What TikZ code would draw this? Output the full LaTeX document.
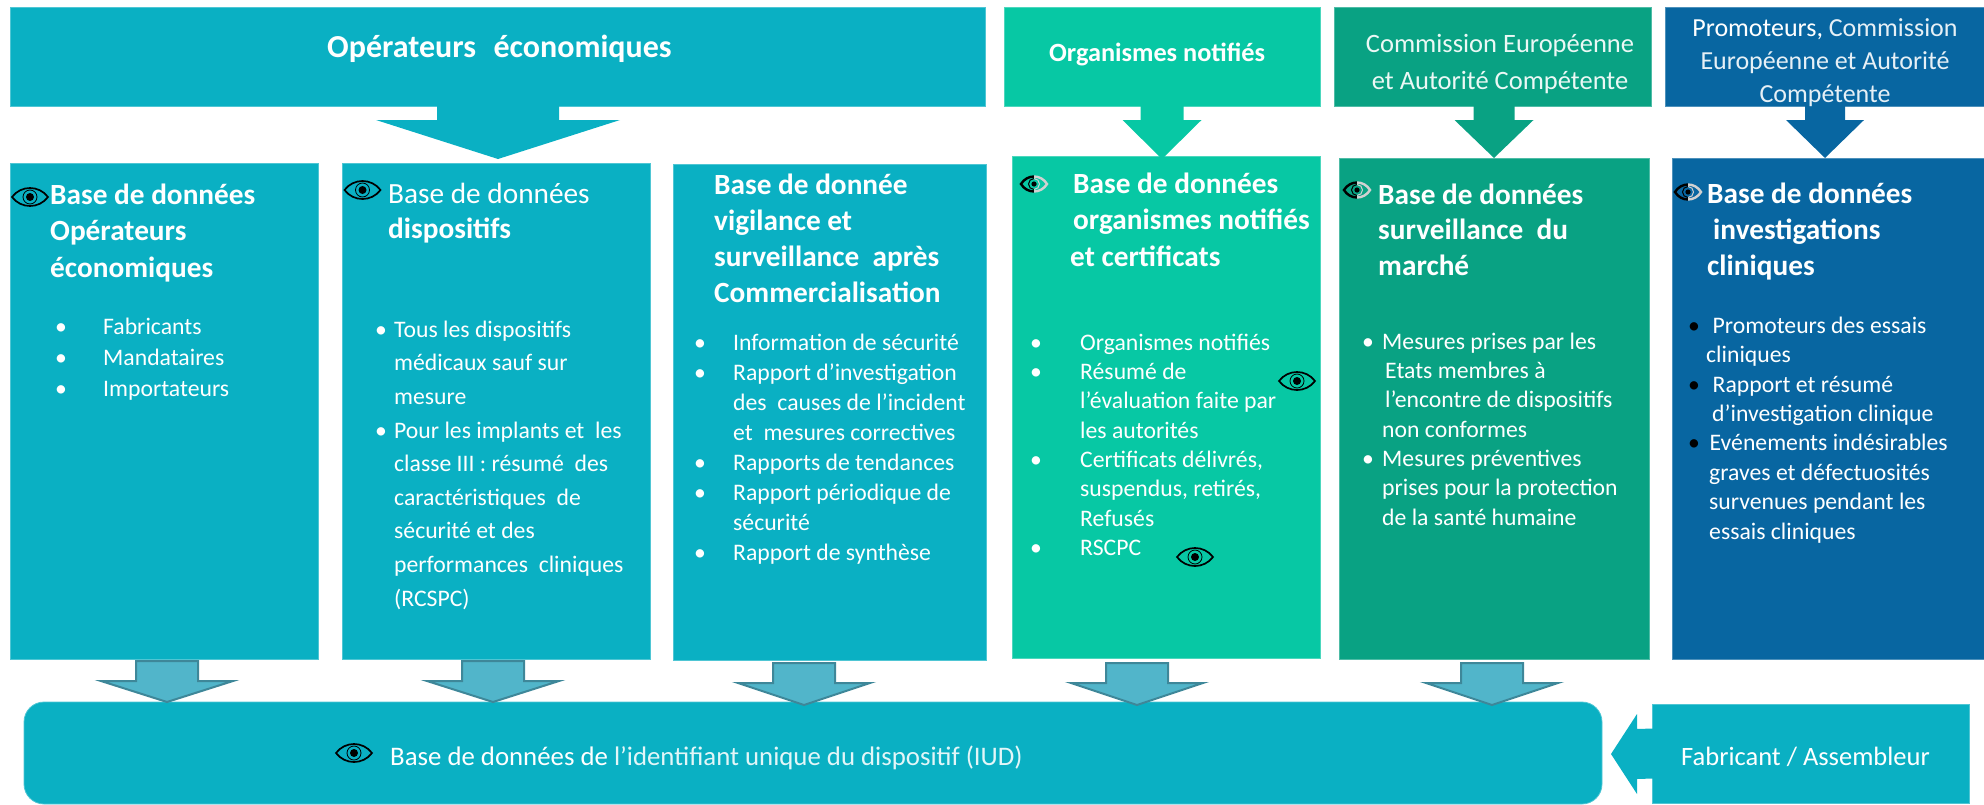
\documentclass[tikz,border=0pt]{standalone}
\usepackage{fontspec}
\setmainfont{Carlito}
\usetikzlibrary{calc}
\definecolor{cteal}{HTML}{0AB0C3}
\definecolor{cgreen}{HTML}{07C8A4}
\definecolor{cdgreen}{HTML}{09A283}
\definecolor{cblue}{HTML}{0866A1}
\definecolor{carrow}{HTML}{51B5CA}
\definecolor{carrowedge}{HTML}{3E8799}
\tikzset{
  panel/.style={anchor=north west,inner sep=0pt,outer sep=0pt,line width=.8pt},
  pteal/.style={panel,fill=cteal,draw=cteal!72!white},
  pgreen/.style={panel,fill=cgreen,draw=cgreen!72!white},
  pdgreen/.style={panel,fill=cdgreen,draw=cdgreen!72!white},
  pblue/.style={panel,fill=cblue,draw=cblue!72!white},
  atop/.style={fill=#1},
  alow/.style={fill=carrow,draw=carrowedge,line width=2pt,line join=miter},
  eye/.pic={
    \draw[black,line width=1.7pt,fill=none] (-18,0) .. controls (-9,-12) and (9,-12) .. (18,0) .. controls (9,12) and (-9,12) .. (-18,0) -- cycle;
    \draw[black,line width=.8pt] (0,0) circle (7);
    \fill[black] (0,0) circle (4);
  },
  halfeye/.pic={
    \begin{scope}
      \clip (-16,-12) rectangle (0,12);
      \draw[black,line width=2.4pt] (-13,0) .. controls (-7,-10) and (7,-10) .. (13,0) .. controls (7,10) and (-7,10) .. (-13,0) -- cycle;
      \draw[black,line width=1pt] (0,0) circle (5.5);
    \end{scope}
    \begin{scope}
      \clip (0,-12) rectangle (16,12);
      \draw[black!18,line width=2.4pt] (-13,0) .. controls (-7,-10) and (7,-10) .. (13,0) .. controls (7,10) and (-7,10) .. (-13,0) -- cycle;
      \draw[black!18,line width=1pt] (0,0) circle (5.5);
    \end{scope}
    \fill[black] (0,0) circle (2.6);
  },
}
% name, x1, y1, x2, y2, style
\newcommand\panelnode[6]{\node[#6,minimum width={(#4-#2)*1pt},minimum height={(#5-#3)*1pt}] (#1) at (#2,#3) {};}
% [options] name, x, first baseline, size, skip, text
\newcommand\txt[7][]{\node[anchor=north west,inner sep=0pt,align=left,text=white,font=\fontsize{#5}{#6}\selectfont,#1] (#2) at ({#3},{#4-0.7*#6}) {\strut #7};}
\newcommand\bu[1]{\makebox[#1pt][l]{\textbullet}}
\newcommand\hs[1]{\hspace*{#1pt}}
% style, source, target, tip x, shaft half, head half, start gap, head length, tip gap
\newcommand\blockdown[9]{%
  \coordinate (S) at ($(#4,0 |- #2.south)+(0,#7)$);
  \coordinate (T) at ($(#4,0 |- #3.north)+(0,#9)$);
  \path[#1] ($(S)+(-#5,0)$) -- ($(S)+(#5,0)$) -- ($(T)+(#5,-#8)$) -- ($(T)+(#6,-#8)$) -- (T) -- ($(T)+(-#6,-#8)$) -- ($(T)+(-#5,-#8)$) -- cycle;}
\begin{document}
\begin{tikzpicture}[x=1pt,y=-1pt]
\useasboundingbox (0,0) rectangle (1984,804);
% top banners
\panelnode{topop}{10}{7}{985}{106}{pteal}
\panelnode{toporg}{1004}{7}{1320}{106}{pgreen}
\panelnode{topcom}{1334.5}{7}{1651}{106}{pdgreen}
\panelnode{toppro}{1665}{7}{1984}{106}{pblue}
% data-base panels
\panelnode{bdop}{10}{163}{318}{659}{pteal}
\panelnode{bddis}{342}{163}{650}{659}{pteal}
\panelnode{bdvig}{673}{164}{986}{660}{pteal}
\panelnode{bdorg}{1012}{156}{1320}{658}{pgreen}
\panelnode{bdsur}{1339}{158}{1649}{659}{pdgreen}
\panelnode{bdinv}{1672}{158}{1984}{659}{pblue}
% bottom
\node[pteal,rounded corners=20pt,minimum width=1578pt,minimum height=102pt] (iud) at (24,702) {};
\panelnode{fab}{1652}{704}{1969}{803}{pteal}
% top arrows
\blockdown{atop=cteal}{topop}{bddis}{498}{61}{122}{-1}{39}{-4}
\blockdown{atop=cgreen}{toporg}{bdorg}{1162}{21.5}{39.5}{-1}{39}{3}
\blockdown{atop=cdgreen}{topcom}{bdsur}{1494}{20.5}{39.5}{-1}{38}{0}
\blockdown{atop=cblue}{toppro}{bdinv}{1825}{20}{39}{-1}{38}{0}
% lower arrows
\blockdown{alow}{bdop}{iud}{167}{31}{66}{2}{21}{0}
\blockdown{alow}{bddis}{iud}{493}{31}{66}{2}{21}{0}
\blockdown{alow}{bdvig}{iud}{804}{31}{66}{3}{22}{3}
\blockdown{alow}{bdorg}{iud}{1137}{31}{66}{5}{22}{3}
\blockdown{alow}{bdsur}{iud}{1492}{31}{66}{4}{22}{3}
% fabricant arrow
\coordinate (FS) at (fab.west);
\coordinate (FT) at ($(iud.east)+(9,1)$);
\fill[cteal] ($(FS)+(1,-25)$) -- ($(FT)+(26,-25)$) -- ($(FT)+(26,-40)$) -- (FT) -- ($(FT)+(26,40)$) -- ($(FT)+(26,25)$) -- ($(FS)+(1,25)$) -- cycle;
% banner texts
\txt[font=\fontsize{32}{36}\selectfont\bfseries]{t1}{327}{57}{32}{36}{Opérateurs\hspace{.55em}économiques}
\txt[font=\fontsize{26.3}{30}\selectfont\bfseries]{t2}{1049}{61}{26.3}{30}{Organismes notifiés}
\txt[anchor=north,align=center,text=white!92!cdgreen]{t3}{1500}{52}{26.5}{37}{Commission Européenne\\et Autorité Compétente}
\txt[anchor=north,align=center,text=white!90!cblue]{t4}{1825}{36}{26}{33}{\textcolor{white}{Promoteurs,} Commission\\Européenne et Autorité\\Compétente}
% panel 1
\txt[font=\fontsize{29.3}{36.5}\selectfont\bfseries]{h1}{50}{204}{29.3}{36.5}{Base de données\\Opérateurs\\économiques}
\txt{l1}{55}{334}{23.7}{31}{\bu{48}Fabricants\\\bu{48}Mandataires\\\bu{48}Importateurs}
% panel 2
\txt{h2}{388}{203}{29.3}{35}{Base de données\\\textbf{dispositifs}}
\txt{l2}{375}{337}{23.7}{33.6}{\bu{19}Tous les dispositifs\\\hs{19}médicaux sauf sur\\\hs{19}mesure\\\bu{19}Pour les implants et\ \ les\\\hs{19}classe III : résumé\ \ des\\\hs{19}caractéristiques\ \ de\\\hs{19}sécurité et des\\\hs{19}performances\ \ cliniques\\\hs{19}(RCSPC)}
% panel 3
\txt[font=\fontsize{29.3}{36}\selectfont\bfseries]{h3}{714}{194}{29.3}{36}{Base de donnée\\vigilance et\\surveillance\ \ après\\Commercialisation}
\txt{l3}{694}{350}{23.7}{30}{\bu{39}Information de sécurité\\\bu{39}Rapport d’investigation\\\hs{39}des\ \ causes de l’incident\\\hs{39}et\ \ mesures correctives\\\bu{39}Rapports de tendances\\\bu{39}Rapport périodique de\\\hs{39}sécurité\\\bu{39}Rapport de synthèse}
% panel 4
\txt[font=\fontsize{29.3}{36.5}\selectfont\bfseries]{h4}{1073}{193}{29.3}{36.5}{Base de données\\organismes notifiés\\\hspace*{-3pt}et certificats}
\txt{l4}{1030}{350}{23.7}{29.3}{\bu{50}Organismes notifiés\\\bu{50}Résumé de\\\hs{50}l’évaluation faite par\\\hs{50}les autorités\\\bu{50}Certificats délivrés,\\\hs{50}suspendus, retirés,\\\hs{50}Refusés\\\bu{50}RSCPC}
% panel 5
\txt[font=\fontsize{29.3}{35.5}\selectfont\bfseries]{h5}{1378}{204}{29.3}{35.5}{Base de données\\surveillance\ \ du\\marché}
\txt{l5}{1362}{349}{23.7}{29.3}{\bu{20}Mesures prises par les\\\hs{23}Etats membres à\\\hs{23}l’encontre de dispositifs\\\hs{20}non conformes\\\bu{20}Mesures préventives\\\hs{20}prises pour la protection\\\hs{20}de la santé humaine}
% panel 6
\txt[font=\fontsize{29.3}{36}\selectfont\bfseries]{h6}{1707}{203}{29.3}{36}{Base de données\\\hs{6}investigations\\cliniques}
\txt{l6}{1688}{333}{23.7}{29.4}{\textcolor{black}{\bu{24.5}}Promoteurs des essais\\\hs{18}cliniques\\\textcolor{black}{\bu{24.5}}Rapport et résumé\\\hs{24}d’investigation clinique\\\textcolor{black}{\bu{21.5}}Evénements indésirables\\\hs{21}graves et défectuosités\\\hs{21}survenues pendant les\\\hs{21}essais cliniques}
% bottom texts
\txt{t7}{390}{765}{26.8}{30}{Base de données de \textcolor{white!88!cteal}{l’identifiant unique du dispositif (IUD)}}
\txt{t8}{1681}{765}{26.5}{30}{Fabricant / Assembleur}
% eyes
\pic at (30,197) {eye};
\pic at (362.5,190) {eye};
\pic at (1297,381) {eye};
\pic at (1195,557) {eye};
\pic at (354,753) {eye};
\pic at (1034,184) {halfeye};
\pic at (1357,190) {halfeye};
\pic at (1688,192) {halfeye};
\end{tikzpicture}
\end{document}
